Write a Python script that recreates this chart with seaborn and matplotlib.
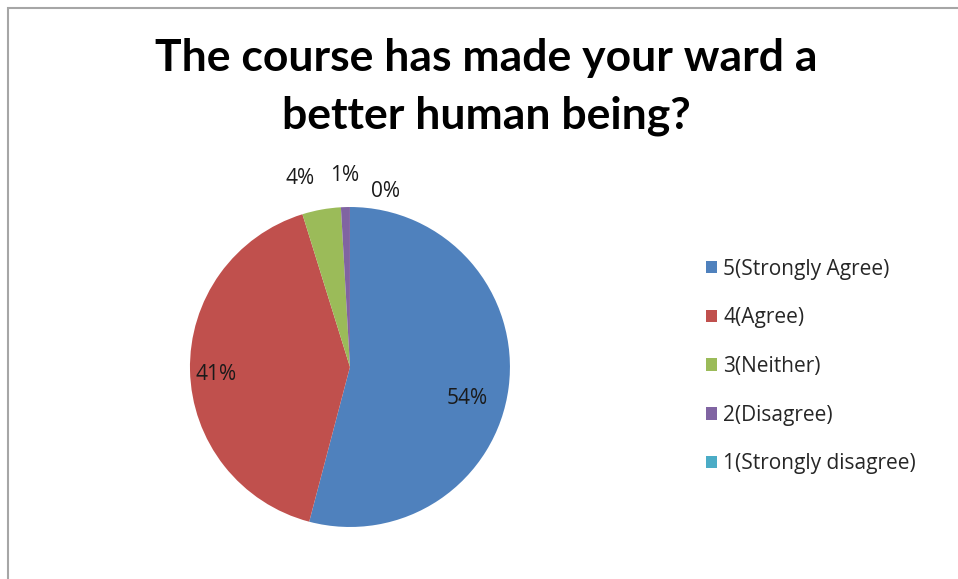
import numpy as np
import seaborn as sns
import matplotlib.pyplot as plt
from matplotlib.patches import Rectangle

sns.set_theme(style='white')
plt.rcParams['font.family'] = ['Open Sans', 'DejaVu Sans']

# data
categories = ['5(Strongly Agree)', '4(Agree)', '3(Neither)', '2(Disagree)', '1(Strongly disagree)']
shares = [54.1, 41.1, 3.9, 0.9, 0.0]
colors = ['#4F81BD', '#C0504D', '#9BBB59', '#8064A2', '#4BACC6']
title = 'The course has made your ward a\nbetter human being?'

fig = plt.figure(figsize=(9.58, 5.79), dpi=100)

# chart frame like the office chart area
fig.patches.append(Rectangle((8 / 958, -0.1), 1.2, (579 - 8) / 579 + 0.1,
                             transform=fig.transFigure, fill=False,
                             edgecolor='#a6a6a6', linewidth=1.5))

ax = fig.add_axes([0.1482, 0.0069, 0.4342, 0.7185])
wedges, texts, autotexts = ax.pie(shares, colors=colors, startangle=90, counterclock=False,
                                  autopct='%.0f%%', pctdistance=0.78,
                                  wedgeprops=dict(linewidth=0),
                                  textprops=dict(fontsize=15, color='#1a1a1a'))
ax.set_xlim(-1.3, 1.3)
ax.set_ylim(-1.3, 1.3)
ax.set_aspect('equal')
ax.axis('off')

# small slices get their labels outside, nudged apart
nudge = {2: -0.1, 3: 0.0, 4: 0.22}
total = sum(shares)
start = 0.0
for i, s in enumerate(shares):
    mid = (start + s / 2) / total * 2 * np.pi
    start += s
    if i in nudge:
        r = 1.2 if i != 4 else 1.1
        autotexts[i].set_position((r * np.sin(mid) + nudge[i], r * np.cos(mid)))
autotexts[0].set_position((0.73, -0.2))
autotexts[1].set_position((-0.84, -0.05))

fig.text(0.508, 0.935, title, ha='center', va='top', fontsize=32, fontweight='bold',
         family=['Lato', 'DejaVu Sans'], linespacing=1.55, color='black')

fig.legend(wedges, categories, loc='center left', bbox_to_anchor=(0.728, 0.367),
           frameon=False, fontsize=15, handlelength=0.55, handleheight=0.55,
           handletextpad=0.3, labelspacing=1.33, borderaxespad=0)

fig.savefig('out.png', dpi=100)
